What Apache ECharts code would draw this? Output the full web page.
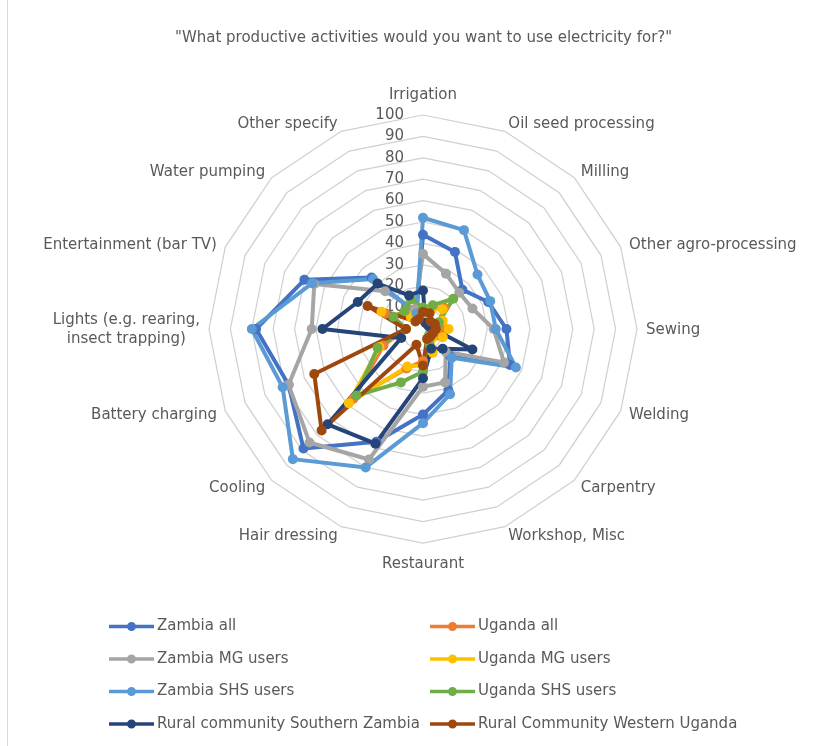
<!DOCTYPE html>
<html>
<head>
<meta charset="utf-8">
<script src="https://cdn.jsdelivr.net/npm/echarts@6/dist/echarts.min.js"></script>
<style>
  html, body { margin: 0; padding: 0; background: #fff; }
  #chart { width: 832px; height: 746px; }
</style>
</head>
<body>
<div id="chart"></div>
<script>
// axes, clockwise from the top
var activities = ['Irrigation', 'Oil seed processing', 'Milling', 'Other agro-processing', 'Sewing',
    'Welding', 'Carpentry', 'Workshop, Misc', 'Restaurant', 'Hair dressing', 'Cooling',
    'Battery charging', 'Lights (e.g. rearing,\ninsect trapping)', 'Entertainment (bar TV)',
    'Water pumping', 'Other specify'];

var tickValues = [0, 10, 20, 30, 40, 50, 60, 70, 80, 90, 100];

// series (%), same order as activities
var zambiaAll      = [44, 39, 26, 33, 39, 44, 18, 31, 40, 57, 79, 68, 78, 60, 34, 8];
var ugandaAll      = [8, 10, 14, 8, 10, 8, 6, 10, 15, 20, 46, 20, 8, 19, 8, 10];
var zambiaMG       = [35, 28, 24, 25, 33, 41, 15, 27, 27, 66, 75, 68, 52, 55, 25, 10];
var ugandaMG       = [6, 10, 13, 10, 12, 10, 6, 12, 17, 19, 49, 22, 8, 21, 8, 8];
var zambiaSHS      = [52, 50, 36, 34, 34, 47, 19, 33, 44, 70, 86, 71, 80, 56, 33, 8];
var ugandaSHS      = [10, 12, 20, 8, 5, 5, 4, 8, 20, 27, 44, 23, 8, 15, 12, 15];
var ruralSZambia   = [18, 3, 3, 3, 5, 25, 13, 10, 23, 58, 63, 11, 47, 33, 30, 17];
var ruralWUganda   = [8, 8, 5, 6, 6, 5, 5, 5, 17, 8, 67, 55, 8, 28, 5, 5];

var seriesNames = ['Zambia all', 'Uganda all', 'Zambia MG users', 'Uganda MG users',
    'Zambia SHS users', 'Uganda SHS users', 'Rural community Southern Zambia', 'Rural Community Western Uganda'];
var seriesValues = [zambiaAll, ugandaAll, zambiaMG, ugandaMG, zambiaSHS, ugandaSHS, ruralSZambia, ruralWUganda];
var seriesColors = ['#4472C4', '#ED7D31', '#A5A5A5', '#FFC000', '#5B9BD5', '#70AD47', '#264478', '#9E480E'];

(function () {
    var FONT = 'DejaVu Sans';
    var TXT = '#595959';

    // echarts radar runs counter-clockwise, so flip everything after the first axis
    var order = [0];
    for (var i = activities.length - 1; i > 0; i--) order.push(i);
    var pick = function (arr) { return order.map(function (k) { return arr[k]; }); };

    var indicators = pick(activities).map(function (name, i) {
        var ind = { name: name, min: tickValues[0], max: tickValues[tickValues.length - 1] };
        if (i === 0) {
            ind.axisLabel = { show: true, margin: 19, color: TXT, fontSize: 15, fontFamily: FONT };
        }
        return ind;
    });

    var data = seriesNames.map(function (name, i) {
        return {
            name: name,
            value: pick(seriesValues[i]),
            itemStyle: { color: seriesColors[i] },
            lineStyle: { color: seriesColors[i], width: 4 }
        };
    });

    var legendIcon = 'path://M0,2.75h45v3.5H0z M18,4.5a4.5,4.5 0 1,1 9,0a4.5,4.5 0 1,1 -9,0z';
    var legendBase = {
        orient: 'vertical',
        top: 619,
        padding: 0,
        icon: legendIcon,
        itemWidth: 45,
        itemHeight: 9,
        itemGap: 17.5,
        selectedMode: false,
        itemStyle: { borderWidth: 0 },
        textStyle: { color: TXT, fontSize: 15, fontFamily: FONT, padding: [0, 0, 0, -2] }
    };

    var option = {
        backgroundColor: '#fff',
        animation: false,
        title: {
            text: '"What productive activities would you want to use electricity for?"',
            left: 170,
            top: 26,
            textStyle: { color: TXT, fontSize: 15, fontWeight: 'normal', fontFamily: FONT }
        },
        legend: [
            Object.assign({}, legendBase, { left: 109, data: [seriesNames[0], seriesNames[2], seriesNames[4], seriesNames[6]] }),
            Object.assign({}, legendBase, { left: 430, data: [seriesNames[1], seriesNames[3], seriesNames[5], seriesNames[7]] })
        ],
        radar: {
            center: [423, 329],
            radius: 214,
            startAngle: 90,
            shape: 'polygon',
            splitNumber: 10,
            nameGap: 9,
            indicator: indicators,
            axisName: {
                color: TXT, fontSize: 15, fontFamily: FONT,
                padding: [5, 0, 3, 0],
                formatter: function (name) {
                    if (name.indexOf('\n') < 0) return name;
                    return name.split('\n').map(function (s) { return '{c|' + s + '}'; }).join('\n');
                },
                rich: { c: { align: 'center', color: TXT, fontSize: 15, fontFamily: FONT, lineHeight: 19 } }
            },
            splitLine: { lineStyle: { color: '#D0D0D0', width: 1.25 } },
            splitArea: { show: false },
            axisLine: { show: false },
            axisTick: { show: false },
            axisLabel: { show: false }
        },
        series: [{
            type: 'radar',
            symbol: 'circle',
            symbolSize: 10,
            data: data
        }],
        graphic: [{
            type: 'line',
            shape: { x1: 7.5, y1: 0, x2: 7.5, y2: 746 },
            style: { stroke: '#D9D9D9', lineWidth: 1 }
        }]
    };

    echarts.init(document.getElementById('chart')).setOption(option);
})();
</script>
</body>
</html>
